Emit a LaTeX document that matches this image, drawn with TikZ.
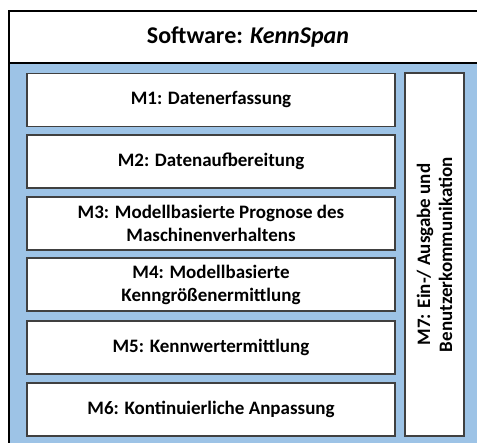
\documentclass[tikz,border=0pt]{standalone}
\usepackage{fontspec}
\setmainfont{Carlito}
\usepackage{tikz}

\definecolor{panelblue}{RGB}{157,195,230}
\definecolor{boxline}{RGB}{64,64,64}

\begin{document}
\begin{tikzpicture}[x=1pt,y=-1pt,
  modul/.style={draw=boxline,line width=1.2pt,fill=white,minimum width=368pt,
    minimum height=53pt,align=center,inner sep=0pt,
    font=\bfseries\fontsize{19}{23}\selectfont}]
\useasboundingbox (0,0) rectangle (477,443);
\fill[white] (0,0) rectangle (477,443);
% Rahmen und blaue Flaeche
\fill[panelblue] (9,63) rectangle (480,446);
\draw[line width=2pt] (9,446) -- (9,11) -- (480,11);
\draw[line width=1.5pt] (9,63) -- (480,63);
\node[font=\bfseries\fontsize{24}{28}\selectfont] (titel) at (248,37) {Software: \textit{KennSpan}};
% Module
\node[modul] (m1) at (211,100) {M1: Datenerfassung};
\node[modul] (m2) at (211,161.5) {M2: Datenaufbereitung};
\node[modul] (m3) at (211,223.5) {M3: Modellbasierte Prognose des\\Maschinenverhaltens};
\node[modul] (m4) at (211,284.5) {M4: Modellbasierte\\Kenngrößenermittlung};
\node[modul] (m5) at (211,347.5) {M5: Kennwertermittlung};
\node[modul] (m6) at (211,409.5) {M6: Kontinuierliche Anpassung};
\node[modul,rotate=90,minimum width=363pt,minimum height=59pt,
  font=\bfseries\fontsize{19}{22}\selectfont] (m7) at (434.5,254.5)
  {M7: Ein-/ Ausgabe und\\Benutzerkommunikation};
\end{tikzpicture}
\end{document}
